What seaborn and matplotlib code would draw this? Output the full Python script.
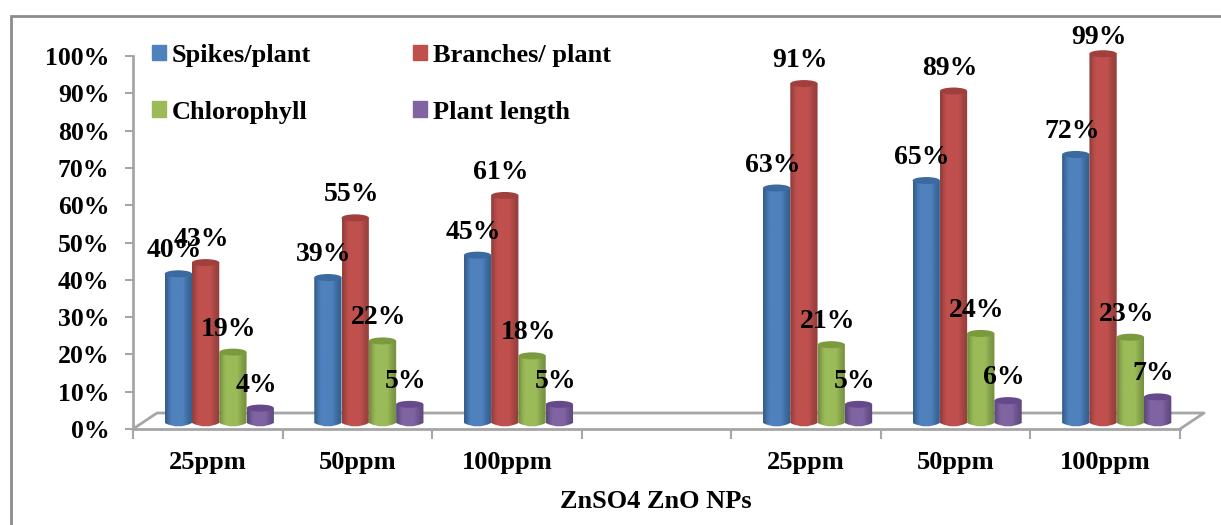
import matplotlib
matplotlib.use('Agg')
import matplotlib.pyplot as plt
import numpy as np
import pandas as pd
import seaborn as sns
from matplotlib.colors import LinearSegmentedColormap
from matplotlib.lines import Line2D
from matplotlib.patches import Ellipse, Patch, Rectangle
from matplotlib.path import Path

# values
groups = ['ZnSO4 25ppm', 'ZnSO4 50ppm', 'ZnSO4 100ppm', 'ZnO 25ppm', 'ZnO 50ppm', 'ZnO 100ppm']
tick_labels = ['25ppm', '50ppm', '100ppm', '', '25ppm', '50ppm', '100ppm']
spikes = [40, 39, 45, 63, 65, 72]
branches = [43, 55, 61, 91, 89, 99]
chlorophyll = [19, 22, 18, 21, 24, 23]
plant_length = [4, 5, 5, 5, 6, 7]
series_names = ['Spikes/plant', 'Branches/ plant', 'Chlorophyll', 'Plant length']
colors = ['#4f81bd', '#c0504d', '#9bbb59', '#8064a2']
dark = ['#35608f', '#96403d', '#779342', '#5f4a80']
top_colors = ['#3a6a9f', '#a03f3c', '#7b9a3e', '#66498c']

W, H = 1221, 525
GRAY = '#a6a6a6'
df = pd.DataFrame({
    'group': groups * 4,
    'value': spikes + branches + chlorophyll + plant_length,
    'series': [s for s in series_names for _ in groups],
})
order = groups[:3] + [''] + groups[3:]

sns.set_style('white')
plt.rcParams['font.family'] = ['Liberation Serif']
plt.rcParams['font.weight'] = 'bold'
plt.rcParams['text.color'] = 'black'

fig = plt.figure(figsize=(W / 100, H / 100), dpi=100)
# 3.73 px per percent, 149.6 px per category
ax = fig.add_axes([133 / W, (H - 429) / H, 1047 / W, 410.3 / H])
sns.barplot(data=df, x='group', y='value', hue='series', order=order, hue_order=series_names,
            palette=colors, width=0.73, gap=0, dodge=True, legend=False, saturation=1, ax=ax)

PX_X = 7 / 1047
PX_Y = 110 / 410.3
dx = 11.5 * PX_X
dy = 6 * PX_Y
rim = 3.5 * PX_Y

for i, cont in enumerate(ax.containers):
    cmap = LinearSegmentedColormap.from_list('cyl', [dark[i], colors[i], colors[i], dark[i]])
    for bar in cont:
        h = bar.get_height()
        if np.isnan(h):
            continue
        x0 = bar.get_x() + dx
        x1 = x0 + bar.get_width()
        xc = (x0 + x1) / 2
        y0 = dy
        y1 = dy + h
        bar.set_visible(False)
        outline = Path([(x0, y1), (x0, y0), (xc, y0 - 2 * rim), (x1, y0), (x1, y1), (x0, y1)],
                       [Path.MOVETO, Path.LINETO, Path.CURVE3, Path.CURVE3, Path.LINETO, Path.CLOSEPOLY])
        im = ax.imshow(np.array([[0, .2, .34, .42, .5, .58, .66, .8, .92, 1]]), cmap=cmap, aspect='auto',
                       extent=[x0, x1, y0 - 2 * rim, y1], zorder=3 + i * 0.1, interpolation='bilinear')
        im.set_clip_path(outline, transform=ax.transData)
        ax.add_patch(Ellipse((xc, y1), bar.get_width(), 2 * rim, color=top_colors[i], zorder=3.05 + i * 0.1, lw=0))
        # the top label gets pushed down by the plot edge
        off = 23 if h < 95 else 16
        ax.annotate(f'{h:.0f}%', (xc, y1), xytext=(-4 * 0.72, off * 0.72), textcoords='offset points',
                    ha='center', va='center', fontsize=20, fontweight='bold', color='black',
                    zorder=6, annotation_clip=False)

ax.set_xlim(-0.5, 6.5)
ax.set_ylim(0, 110)

# floor of the 3d box
ax.add_line(Line2D([-0.5, -0.5 + 24 * PX_X, 6.5 + 24 * PX_X, 6.5], [0, 16 * PX_Y, 16 * PX_Y, 0],
                   color=GRAY, lw=2, clip_on=False, zorder=1))

sns.despine(ax=ax, top=True, right=True)
ax.spines['left'].set_bounds(0, 100)
for s in ['left', 'bottom']:
    ax.spines[s].set_color(GRAY)
    ax.spines[s].set_linewidth(2)

ax.set_yticks(np.arange(0, 101, 10))
ax.set_yticklabels([f'{v}%' for v in range(0, 101, 10)], fontsize=18.5, fontweight='bold')
ax.set_xticks(range(7))
ax.set_xticklabels(tick_labels, fontsize=19, fontweight='bold')
ax.set_xticks(np.arange(-0.5, 7), minor=True)
ax.tick_params(axis='x', which='major', length=0, pad=16, labelcolor='black')
ax.tick_params(axis='x', which='minor', bottom=True, length=7, width=1.5, color=GRAY)
ax.tick_params(axis='y', left=True, length=6, width=1.5, color=GRAY, pad=11, labelcolor='black')
ax.set_xlabel('ZnSO4 ZnO NPs', fontsize=19, fontweight='bold', color='black')
ax.xaxis.set_label_coords((656 - 133) / 1047, -(502 - 429) / 410.3)
ax.xaxis.label.set_verticalalignment('center')
ax.set_ylabel('')

# legend fills by column, so swap the middle two to read row by row
leg_order = [0, 2, 1, 3]
handles = [Patch(color=colors[k]) for k in leg_order]
ax.legend(handles, [series_names[k] for k in leg_order], ncol=2, frameon=False, fontsize=19,
          loc='upper left', bbox_to_anchor=(152 / W, 1 - 44 / H), bbox_transform=fig.transFigure,
          handlelength=0.52, handleheight=0.52, handletextpad=0.23, columnspacing=3.86, labelspacing=1.27,
          borderpad=0, borderaxespad=0)

# outer border, runs off the right and bottom of the picture
fig.add_artist(Rectangle((11 / W, -0.1), 1.2, 1.1 - 16 / H, transform=fig.transFigure,
                         fill=False, edgecolor='#8c8c8c', lw=2))

fig.savefig('out.png', dpi=100)
